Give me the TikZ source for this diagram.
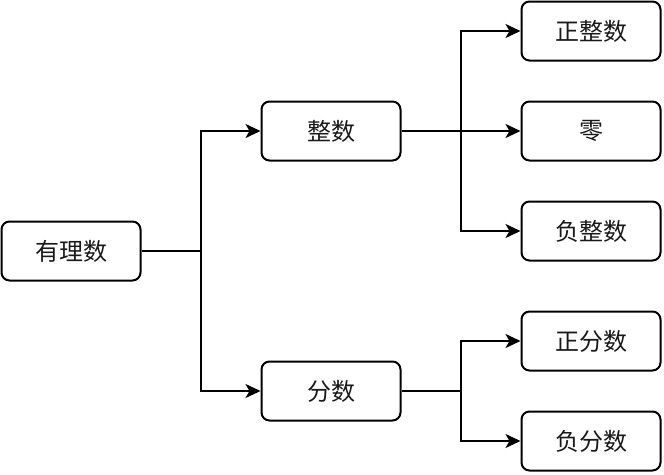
\documentclass[tikz,border=0pt]{standalone}
\usepackage{fontspec}
\newfontfamily\cjk{Noto Sans CJK SC}
\usetikzlibrary{arrows.meta}
\begin{document}
\begin{tikzpicture}[x=1pt,y=-1pt,
  box/.style={draw=black,line width=2pt,rounded corners=8pt,minimum width=139pt,minimum height=59pt,inner sep=0pt,font=\cjk\fontsize{24}{24}\selectfont,text=black!90},
  conn/.style={draw=black,line width=2pt,-{Stealth[length=15pt,width=14pt,inset=4pt]}},
  line/.style={draw=black,line width=2pt}]
\useasboundingbox (0,0) rectangle (664,474);
\node[box] (r) at (71,251) {有理数};
\node[box] (z) at (331,131) {整数};
\node[box] (f) at (331,391) {分数};
\node[box] (zz) at (591,31) {正整数};
\node[box] (l) at (591,131) {零};
\node[box] (fz) at (591,231) {负整数};
\node[box] (zf) at (591,341) {正分数};
\node[box] (ff) at (591,441) {负分数};
\coordinate (j1) at (201,251);
\coordinate (j2) at (461,131);
\coordinate (j3) at (461,391);
\draw[line] (r.east) -- (j1);
\draw[conn] (j1) |- (z.west);
\draw[conn] (j1) |- (f.west);
\draw[line] (z.east) -- (j2);
\draw[conn] (j2) |- (zz.west);
\draw[conn] (j2) -- (l.west);
\draw[conn] (j2) |- (fz.west);
\draw[line] (f.east) -- (j3);
\draw[conn] (j3) |- (zf.west);
\draw[conn] (j3) |- (ff.west);
\end{tikzpicture}
\end{document}
